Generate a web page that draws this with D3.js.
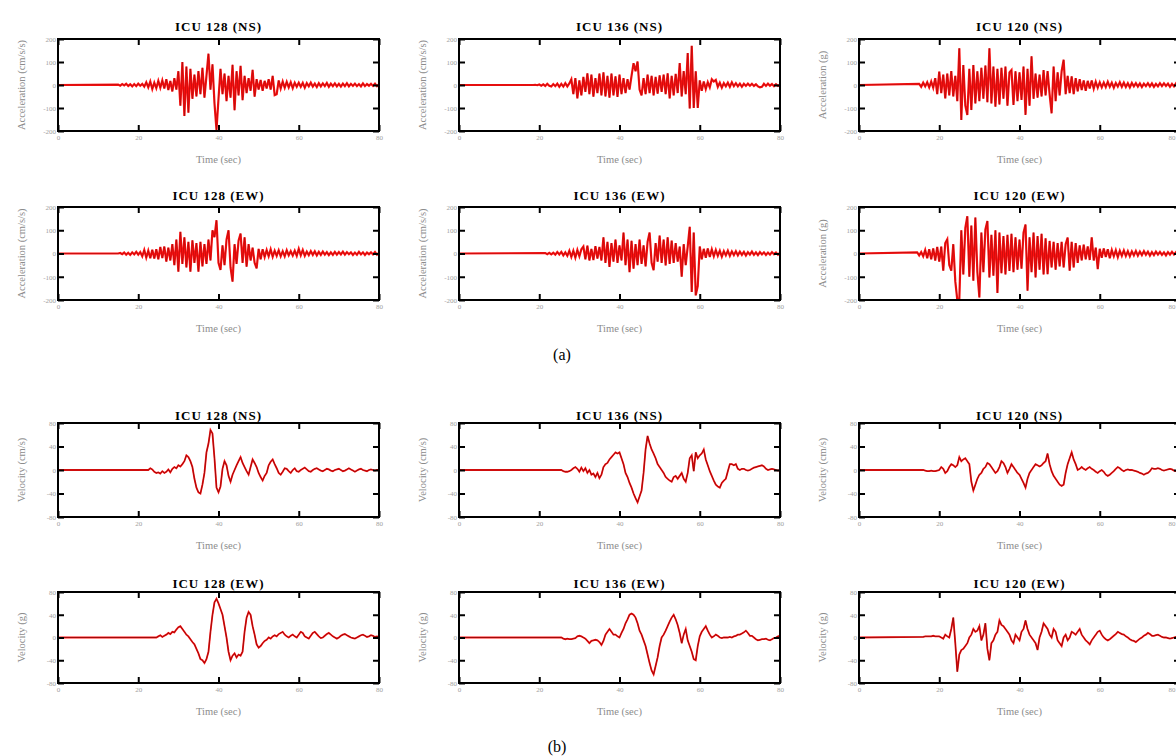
<!DOCTYPE html>
<html>
<head>
<meta charset="utf-8">
<script src="https://cdn.jsdelivr.net/npm/d3@7"></script>
<style>
  body { margin: 0; background: #fff; }
  svg { display: block; }
  text { font-family: "Liberation Serif", "Times New Roman", serif; }
</style>
</head>
<body>
<svg id="fig" width="1176" height="756"></svg>
<script>
// axis ticks
const timeTicks = [0, 20, 40, 60, 80]
const accTicks = [-200, -100, 0, 100, 200]
const velTicks = [-80, -40, 0, 40, 80]

// panel text
const stations = ['ICU 128', 'ICU 136', 'ICU 120']
const components = ['NS', 'EW']
const accLabels = ['Acceleration (cm/s/s)', 'Acceleration (cm/s/s)', 'Acceleration (g)']
const velLabels = ['Velocity (cm/s)', 'Velocity (g)']
const groupLabels = ['(a)', '(b)']

// sampling step of every record (sec)
const dt = 0.5

// acceleration records, first sample at onset (before it the trace is 0)
const acc128NS = [2,-3,4,-2,5,-4,3,-6,4,-5,6,-3,5,-7,
  12,-10,15,-18,10,-14,18,-12, 20,-15,25,-22,18,-28,30,-20,
  60,-90,100,-135,80,-120,70,-60, 45,-50,60,-40,75,-55,
  40,136,-20,90,-80,-195, -60,70,-40,50,-70,40,-55,88,
  -110,60,-45,83,-66,40,-35,30, -25,66,-51,25,-20,22,-25,18,
  -15,25,-20,40,-44,-40,20,-15, 15,-12,14,-10,12,-14,10,-8,
  10,-8,9,-12,8,-6,10,-7,6,-9,8,-6,7,-5,9,-8,6,-5,7,-6,
  5,-7,6,-5,8,-6,5,-4,6,-5,4,-6,7,-5,4,-3,5,-4,6,-5,3]
const acc128EW = [0,2,-3,4,-5,3,-6,5,-4,7,-5,6,
  -12,15,-18,12,-20,16,-22,18, -25,28,-20,30,-35,25,-30,40,
  -50,60,-78,93,-45,70,-60,50, -78,57,-40,45,-78,50,-55,40,
  -45,60,-30,100,70,143, -40,-71,35,-50,60,100,-60,-121,
  40,-45,55,86,-40,70,-57,40, -30,25,-40,-64,20,-25,18,-15,
  15,-12,18,-14,12,-10,14,-12, 10,-12,14,-8,10,-9,12,-10,
  20,-8,15,-10,8,-7,10,-6,9,-8,7,-6,8,-5,6,-7,5,-6,7,-5,
  6,-4,8,-5,6,-3,5,-6,4,-5,7,-4,5,-6,4,-3,5,-4,6,-5,3]
const acc136NS = [0,0,0,0,0,0,0,0,1,-1,
  2,-3,3,-4,5,-3,-6,4, -5,6,-8,5,-7,8,-6,7,
  25,-40,30,-58,20,-45,35,-30, 51,-40,45,-51,30,-35,50,-45,
  55,-50,40,-55,50,-45,38,-52, 45,-40,30,-35,25,-20,40,95,
  60,102,-20,-45,30,-40,45,-35, 40,-45,35,-38,42,-30,45,-40,
  51,-58,40,-45,48,-35,95,-50, 60,-40,139,-102,170,-100,60,-100,
  20,-25,15,-18,12,-10,25,15,22,-8,10,-12,8,-6,10,-8,12,-5,8,-6,
  6,-8,5,-4,6,-3,5,-4,3,-6,-10,-8,5,-4,6,-3,4,-5,3,-4,2]
const acc136EW = [2,-3,3,-4,3,
  -5,6,-4,7,-8,5,-10,12, -15,12,-18,15,-12,18,
  30,-25,34,-30,20,-28,32,-22,28,-30, 70,-40,50,-58,45,-35,60,
  -40,35,-30, 90,-50,60,-80, 55,-65,40,-50,60,-45,35,-55,
  50,90,-40,-72,45,-35, 77,-40,60,-51,70,-45,55,-40,
  45,-35,30,-100,40,-50,30, 115,-165,90,-180,-140,
  30,-25,20,-18,22,-15,18,-12,15,-10,12,-14,10,-8,12,-10,9,-7,10,-8,
  8,-6,7,-9,6,-5,8,-6,5,-7,6,-4,5,-6,4,-5,6,-3,4,-5,3]
const acc120NS = [5,-8,10,-6,12,-10,15,-12,
  30,-40,58,-35,45,-58,50,-45, 60,-50,40,-70, 160,-152,87,-90,
  -130,70,-109,87,-80,60, -70,75,-60,85,-75, 160,-80,80,-94,70,
  -85,75,-60,80,-90,55, 65,-87,60,-70,55,-65, 80,-130,70,-90,125,-60,
  50,-55,45,-50,65,-45,60,-40, -123,80,-70,55, -45,60,110,-40,
  40,-35,38,-40,30,-28, 25,-22,20,-25,18,-15,20,-16,14,-12,
  12,-10,11,-9,14,-8,10,-12,9,-7,12,-8,10,-9,8,-10,9,-6,8,-7,
  7,-9,6,-5,8,-6,7,-8,5,-6,8,-5,7,-4,6,-8,5,-6,7,-5,4]
const acc120EW = [5,-8,6,
  -12,15,-20,18,-25,22,-30,28,-35,30, -74,45,61,-50,-74,40,
  -120,-200,-200,100, -90,110,160,-100, 120,-117,155,-80,-189,90,
  -80,104,140,-103,80,-95, 100,-170,90,-85,75,-90, 80,-75,85,-80,70,-70,
  60,-65,90,125,-160,70, -80,90,-103,75,-70,85,-90,65,
  -89,54,-60,50,-70,45,-55,50,-60,40, 69,-74,50,-60,45,-40,
  35,-30,38,-25,30,-28,69,-30,25,-67,
  20,-18,22,-15,18,-20,15,-12,14,-16,12,-10,13,-11,10,-12,9,-8,11,-9,
  8,-7,10,-6,8,-9,6,-7,8,-5,7,-6,5,-8,6,-5,7,-4,6,-5,3]

// velocity records
const vel128NS = [0,3,1,-3,-5, -4,-6,-2,-5,-3,1,-4,2,
  5,3,8,6,10,15, 25,22,15,5,-15,-30, -38,-40,-25,-5,30,45,
  68,62,20,-30,-38,-28, 2,15,8,-10,-20,-8, 0,8,15,22,12,5,
  -2,-8,5,18,12,5, -5,-12,-18,-10,-5,8, 14,18,10,3,-5,-8,
  -3,3,2,-2,-5,0,3,-2,
  -3,0,2,4,1,-2,-3,0,2,3,1,-1,-2,0,2,1,-1,-2,0,1,
  2,0,-2,-1,1,3,1,-1,-3,-1,1,2,0,-1,-2,0,1,0,-1,0,0]
const vel128EW = [0,2,4,1,3,
  5,8,6,10,9,14, 18,20,15,10,5,2, -3,-8,-12,-20,-28,-38,
  -40,-45,-38,-25,10,40, 62,68,60,50,40,20, 0,-25,-40,-32,-28,-35,
  -30,-32,-25,10,35,45, 40,20,5,-12,-18,-15, -10,-6,-4,0,-2,2,
  4,2,6,8,10,5, 2,0,3,5,2,0,
  5,10,8,2,0,-2,3,8,10,6,2,-1,0,3,6,8,5,2,0,-2,
  0,3,5,6,4,2,0,-1,-2,0,2,4,5,3,1,2,4,3,1,2,1]
const vel136NS = [0,-2,-3,-3,-2,
  0,3,5,2,-3,4, -2,3,-5,0,-8,-6, -12,-5,-14,-8,5,10,
  12,18,22,26,30,28, 30,20,10,-5,-12,-22, -30,-40,-48,-55,-45,-35,
  -5,35,58,45,35,28, 20,10,5,0,-5,-12, -15,-18,-20,-12,-10,-15,
  -10,-5,-15,-20,-5,20, 25,-2,30,20,25,28, 35,18,8,-2,-10,-18,
  -25,-28,-30,-22,-18,-15, -2,10,10,8,10,2, 0,2,2,0,-1,0,
  2,4,5,6,7,8, 6,2,0,1,2,1,0,-1,0]
const vel136EW = [0,-2,-3,-2,-3,
  -3,-2,-1,2,3,2, 0,-2,-6,-10,-6,-5, -4,-5,-8,-13,-6,5,
  10,15,10,5,5,2, 0,8,15,25,32,40, 42,40,35,25,12,5,
  -5,-15,-30,-45,-58,-65, -50,-35,-15,0,5,12, 20,28,35,40,32,22,
  8,-10,5,15,-5,-15, -25,-38,-40,-15,2,10, 15,20,12,5,0,2,
  5,3,0,-1,0,0, 0,1,0,2,3,5, 5,7,9,12,8,3,
  3,0,-3,-5,-4,-3, -3,-2,-4,-5,-3,-1,0,2,3]
const vel120NS = [0,-1,-2,-2,-1,-2,-2,-1,
  0,5,2,-5,-2,5, 10,8,5,8,22,15, 18,20,15,10,-20,-35,
  -25,-15,-8,-5,2,5, 12,10,5,0,-5,-2, 5,15,12,5,-5,2,
  10,5,0,-5,-8,-15, -22,-30,-15,-5,0,5, 10,8,6,8,12,15,
  28,10,-2,-10,-15,-20, -25,-27,-25,-5,10,20, 30,18,10,0,2,5,
  2,0,3,5,2,0, -3,-5,-2,0,-3,-8, -10,-8,-5,-2,2,5,
  3,0,-2,0,1,0, 0,-1,-2,-3,-5,-6, -8,-6,-5,-2,3,2,
  2,3,2,0,-1,0, 1,2,1,-1,-2,0,1]
const vel120EW = [1,2,2,2,2,3,2,2,
  2,0,-2,5,2,0, 15,35,-10,-60,-30,-22, -20,-15,-10,0,5,15,
  10,12,20,-5,5,25, -20,-40,-10,-5,5,10, 30,22,20,15,10,5,
  -5,-10,5,0,-5,10, 15,30,15,5,0,-5, -10,-22,0,10,25,20,
  15,5,0,15,10,-5, -10,-15,0,5,-5,0, 10,8,5,10,15,5,
  0,-5,-8,-12,-5,0, 5,10,12,5,0,-3, -5,-3,0,3,6,10,
  8,6,5,2,0,-3, -5,-6,-8,-5,-2,0, 3,5,8,6,3,3,
  4,5,3,1,0,0, -1,-2,-1,0,1,3,2]

// onset time (sec) of each record
const accOnsets = [[15, 15], [15, 21.5], [15, 14.5]]
const velOnsets = [[22.5, 24.5], [25.5, 25.5], [16, 16]]

// records by [station][component]
const accRecords = [[acc128NS, acc128EW], [acc136NS, acc136EW], [acc120NS, acc120EW]]
const velRecords = [[vel128NS, vel128EW], [vel136NS, vel136EW], [vel120NS, vel120EW]]

// layout
const colX = [58, 459, 859]
const plotW = 321
const pageW = 1176
const rows = [
  { top: 39, bottom: 131, title: 31 },
  { top: 207, bottom: 300, title: 200 },
  { top: 423, bottom: 517, title: 420 },
  { top: 592, bottom: 683, title: 588 }
]

const svg = d3.select('#fig')
const defs = svg.append('defs')

const drawPanel = (col, row, values, onset, yTicks, yLabel, title, id, dense) => {
  const x0 = colX[col]
  const r = rows[row]
  const x = d3.scaleLinear().domain([0, 80]).range([x0, x0 + plotW])
  const y = d3.scaleLinear().domain([yTicks[0], yTicks[yTicks.length - 1]]).range([r.bottom, r.top])

  const g = svg.append('g')

  defs.append('clipPath').attr('id', 'clip' + id)
    .append('rect')
    .attr('x', x0).attr('y', r.top)
    .attr('width', plotW).attr('height', r.bottom - r.top)

  // trace: rest at 0 before onset, then the samples
  const pts = [[0, 0]].concat(values.map((v, i) => [onset + i * dt, v]))
  const line = d3.line().x(d => x(d[0])).y(d => y(d[1]))
  const trace = g.append('g').attr('clip-path', `url(#clip${id})`)
  trace.append('path').attr('d', line(pts))
    .attr('fill', 'none').attr('stroke', '#ff1010')
    .attr('stroke-width', dense ? 2.2 : 1.8)
  trace.append('path').attr('d', line(pts))
    .attr('fill', 'none').attr('stroke', '#7a0a0a')
    .attr('stroke-width', dense ? 0.5 : 0.8).attr('stroke-opacity', dense ? 0.75 : 0.9)

  // axes with inward ticks
  const fmt = d => String(d)
  const styleAxis = sel => {
    sel.select('.domain').remove()
    sel.selectAll('.tick line').attr('stroke', '#000').attr('stroke-width', 2)
    sel.selectAll('.tick text').attr('fill', '#a0a0a0').attr('font-size', 7)
      .attr('font-family', '"Liberation Serif", serif')
  }
  const bottomAxis = g.append('g').attr('transform', `translate(0,${r.bottom})`)
    .call(d3.axisBottom(x).tickValues(timeTicks).tickSize(-6).tickPadding(4).tickFormat(fmt))
    .call(styleAxis)
  // keep the last time label inside the page
  bottomAxis.selectAll('.tick text')
    .filter(d => x(d) + 5 > pageW)
    .attr('text-anchor', 'end')
    .attr('x', d => pageW - 1 - x(d))
  g.append('g').attr('transform', `translate(0,${r.top})`)
    .call(d3.axisTop(x).tickValues(timeTicks).tickSize(-6).tickFormat(''))
    .call(styleAxis)
  g.append('g').attr('transform', `translate(${x0},0)`)
    .call(d3.axisLeft(y).tickValues(yTicks).tickSize(-6).tickPadding(2).tickFormat(fmt))
    .call(styleAxis)
  g.append('g').attr('transform', `translate(${x0 + plotW},0)`)
    .call(d3.axisRight(y).tickValues(yTicks).tickSize(-6).tickFormat(''))
    .call(styleAxis)

  // frame
  g.append('rect')
    .attr('x', x0).attr('y', r.top)
    .attr('width', plotW).attr('height', r.bottom - r.top)
    .attr('fill', 'none').attr('stroke', '#000').attr('stroke-width', 2)

  // texts
  g.append('text')
    .attr('x', x0 + plotW / 2).attr('y', r.title)
    .attr('text-anchor', 'middle')
    .attr('font-size', 13).attr('font-weight', 'bold')
    .attr('letter-spacing', 1)
    .text(title)
  g.append('text')
    .attr('x', x0 + plotW / 2).attr('y', r.bottom + 32)
    .attr('text-anchor', 'middle')
    .attr('font-size', 10.5).attr('fill', '#8c8c8c')
    .text('Time (sec)')
  g.append('text')
    .attr('transform', `translate(${x0 - 33},${(r.top + r.bottom) / 2}) rotate(-90)`)
    .attr('text-anchor', 'middle')
    .attr('font-size', 10.5).attr('fill', '#8c8c8c')
    .text(yLabel)
}

stations.forEach((st, c) => {
  components.forEach((comp, k) => {
    const title = `${st} (${comp})`
    drawPanel(c, k, accRecords[c][k], accOnsets[c][k], accTicks, accLabels[c], title, `a${c}${k}`, true)
    drawPanel(c, k + 2, velRecords[c][k], velOnsets[c][k], velTicks, velLabels[k], title, `v${c}${k}`, false)
  })
})

// group captions
svg.append('text').attr('x', 562).attr('y', 360)
  .attr('text-anchor', 'middle').attr('font-size', 16)
  .text(groupLabels[0])
svg.append('text').attr('x', 557).attr('y', 752)
  .attr('text-anchor', 'middle').attr('font-size', 16)
  .text(groupLabels[1])
</script>
</body>
</html>
